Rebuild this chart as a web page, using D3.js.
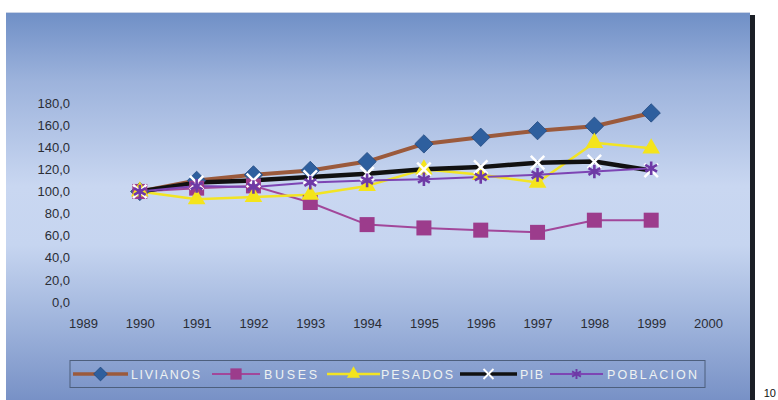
<!DOCTYPE html>
<html>
<head>
<meta charset="utf-8">
<script src="https://cdn.jsdelivr.net/npm/d3@7"></script>
<style>
  html, body { margin: 0; padding: 0; background: #ffffff; }
  svg { display: block; }
</style>
</head>
<body>
<svg id="chart" width="778" height="400"></svg>
<script>
// Índices 1990 = 100
const years = [1990, 1991, 1992, 1993, 1994, 1995, 1996, 1997, 1998, 1999];
const livianos  = [100, 110, 115, 119, 127, 143, 149, 155, 159, 171];
const buses     = [100, 103, 105, 90, 70, 67, 65, 63, 74, 74];
const pesados   = [100, 93, 95, 97, 105, 120, 115, 108, 144, 139];
const pib       = [100, 108, 110, 113, 116, 120, 122, 126, 127, 119];
const poblacion = [100, 105, 104, 108, 110, 111, 113, 115, 118, 121];

const xTicks = [1989, 1990, 1991, 1992, 1993, 1994, 1995, 1996, 1997, 1998, 1999, 2000];
const yTicks = [0, 20, 40, 60, 80, 100, 120, 140, 160, 180];
const seriesNames = ["LIVIANOS", "BUSES", "PESADOS", "PIB", "POBLACION"];

const series = [
  { name: seriesNames[0], values: livianos,  line: "#9b5a3c", lw: 4,   marker: "diamond",  fill: "#2e5f9e" },
  { name: seriesNames[1], values: buses,     line: "#a2479a", lw: 2,   marker: "square",   fill: "#9c3c8c" },
  { name: seriesNames[2], values: pesados,   line: "#f2e424", lw: 2.5, marker: "triangle", fill: "#f4e41c" },
  { name: seriesNames[3], values: pib,       line: "#111111", lw: 4.5, marker: "x",        fill: "#ffffff" },
  { name: seriesNames[4], values: poblacion, line: "#7d45b4", lw: 2,   marker: "star",     fill: "#6e3aa6" }
];

const svg = d3.select("#chart");

// background panel with vertical gradient
const defs = svg.append("defs");
const grad = defs.append("linearGradient").attr("id", "bg").attr("x1", 0).attr("y1", 0).attr("x2", 0).attr("y2", 1);
[[0, "#6f8fc6"], [0.18, "#9db3dc"], [0.45, "#c9d7f1"], [0.6, "#c6d5f0"], [0.8, "#9fb4dc"], [1, "#7891c6"]]
  .forEach(([o, c]) => grad.append("stop").attr("offset", o).attr("stop-color", c));

svg.append("rect").attr("x", 750).attr("y", 15).attr("width", 5).attr("height", 385).attr("fill", "#1b1f26");
svg.append("rect").attr("x", 6).attr("y", 12).attr("width", 744).attr("height", 388).attr("fill", "url(#bg)");
svg.append("line").attr("x1", 6).attr("x2", 750).attr("y1", 12.5).attr("y2", 12.5)
  .attr("stroke", "#c9d3e6").attr("stroke-width", 1);

const x = d3.scaleLinear().domain([1989, 2000]).range([83, 708]);
const y = d3.scaleLinear().domain([0, 180]).range([302, 103]);

// axes (labels only)
const fmt = d => d.toFixed(1).replace(".", ",");
const yAxis = svg.append("g").attr("transform", "translate(70,0)")
  .call(d3.axisLeft(y).tickValues(yTicks).tickFormat(fmt).tickSize(0).tickPadding(0));
const xAxis = svg.append("g").attr("transform", "translate(0,319)")
  .call(d3.axisBottom(x).tickValues(xTicks).tickFormat(d3.format("d")).tickSize(0).tickPadding(0));
[yAxis, xAxis].forEach(g => {
  g.select(".domain").remove();
  g.selectAll("text").attr("font-family", "Arial, 'Liberation Sans', sans-serif")
    .attr("font-size", 13).attr("fill", "#2a2d35");
});

// marker drawing
function drawMarker(g, type, cx, cy, fill, scale = 1) {
  const s = scale;
  if (type === "diamond") {
    g.append("path").attr("d", d3.symbol().type(d3.symbolDiamond2).size(215 * s * s)())
      .attr("transform", `translate(${cx},${cy})`).attr("fill", fill).attr("stroke", "#234a80").attr("stroke-width", 0.8);
  } else if (type === "square") {
    g.append("rect").attr("x", cx - 7.5 * s).attr("y", cy - 7.5 * s).attr("width", 15 * s).attr("height", 15 * s)
      .attr("fill", fill);
  } else if (type === "triangle") {
    g.append("path").attr("d", d3.symbol().type(d3.symbolTriangle).size(135 * s * s)())
      .attr("transform", `translate(${cx},${cy})`).attr("fill", fill);
  } else if (type === "x") {
    g.append("path").attr("d", d3.symbol().type(d3.symbolX).size(120 * s * s)())
      .attr("transform", `translate(${cx},${cy})`).attr("fill", "none").attr("stroke", fill).attr("stroke-width", 2.5 * s);
  } else if (type === "star") {
    g.append("path").attr("d", d3.symbol().type(d3.symbolAsterisk).size(130 * s * s)())
      .attr("transform", `translate(${cx},${cy})`).attr("fill", "none").attr("stroke", fill).attr("stroke-width", 2.6 * s);
  }
}

const line = d3.line().x((d, i) => x(years[i])).y(d => y(d));

const plot = svg.append("g");
series.forEach(s => {
  plot.append("path").datum(s.values).attr("d", line)
    .attr("fill", "none").attr("stroke", s.line).attr("stroke-width", s.lw)
    .attr("stroke-linejoin", "round").attr("stroke-linecap", "round");
});
series.forEach(s => {
  const g = plot.append("g");
  s.values.forEach((v, i) => drawMarker(g, s.marker, x(years[i]), y(v), s.fill));
});

// legend
const legend = svg.append("g");
legend.append("rect").attr("x", 70).attr("y", 360.5).attr("width", 635).attr("height", 27)
  .attr("fill", "none").attr("stroke", "#4d5f7d").attr("stroke-width", 1);
const legendItems = [
  { x0: 73,  x1: 128, tx: 131, tw: 69 },
  { x0: 212, x1: 260, tx: 264, tw: 53 },
  { x0: 327, x1: 380, tx: 381, tw: 72 },
  { x0: 460, x1: 517, tx: 520, tw: 23 },
  { x0: 550, x1: 603, tx: 607, tw: 90 }
];
series.forEach((s, i) => {
  const it = legendItems[i];
  const ly = 374;
  legend.append("line").attr("x1", it.x0).attr("x2", it.x1).attr("y1", ly).attr("y2", ly)
    .attr("stroke", s.line).attr("stroke-width", Math.min(s.lw, 3.5));
  drawMarker(legend, s.marker, (it.x0 + it.x1) / 2, ly, s.fill, 0.75);
  legend.append("text").attr("x", it.tx).attr("y", ly + 4.5).text(s.name)
    .attr("font-family", "Arial, 'Liberation Sans', sans-serif").attr("font-size", 12.5)
    .attr("fill", "#eef2f2").attr("textLength", it.tw).attr("lengthAdjust", "spacing");
});

// page number at the margin
svg.append("text").attr("x", 776).attr("y", 397).attr("text-anchor", "end").text("10")
  .attr("font-family", "Arial, 'Liberation Sans', sans-serif").attr("font-size", 11).attr("fill", "#111");
</script>
</body>
</html>
